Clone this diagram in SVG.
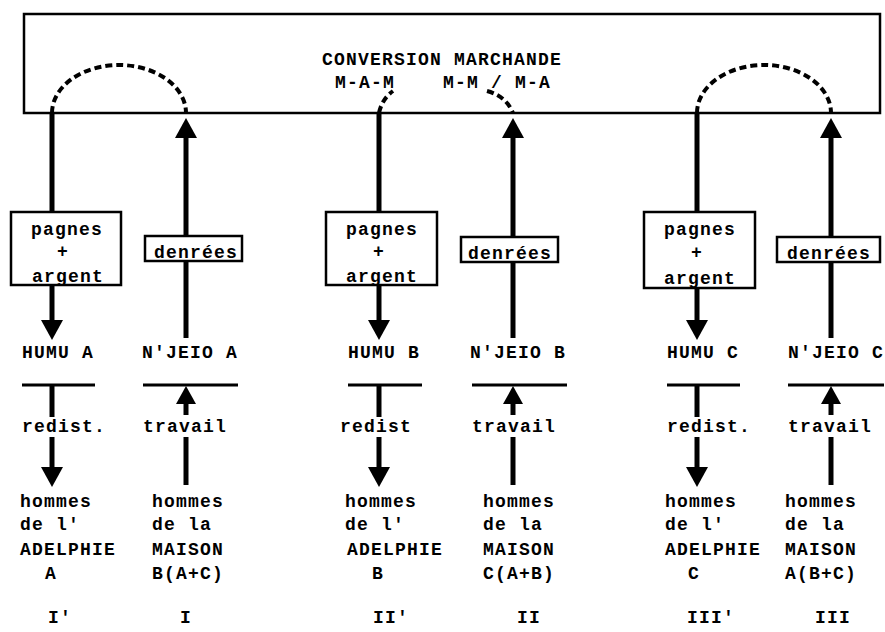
<svg xmlns="http://www.w3.org/2000/svg" width="885" height="632" viewBox="0 0 885 632">
<style>
text{font-family:"Liberation Mono","DejaVu Sans Mono",monospace;font-size:18px;font-weight:bold;letter-spacing:1.2px;fill:#000}
.m{text-anchor:middle}
.box{fill:#fff;stroke:#000;stroke-width:2.5}
.frame{fill:none;stroke:#000;stroke-width:2.5}
.ln{stroke:#000;stroke-width:5;fill:none}
.hr{stroke:#000;stroke-width:3}
.dash{stroke:#000;stroke-width:4;fill:none;stroke-dasharray:7 4}
</style>
<defs>
<marker id="ah" viewBox="0 0 20 22" refX="8" refY="11" markerWidth="20" markerHeight="22" markerUnits="userSpaceOnUse" orient="auto">
<path d="M0,0 L20,11 L0,22 z" fill="#000"/>
</marker>
<marker id="ahs" viewBox="0 0 18 20" refX="6" refY="10" markerWidth="18" markerHeight="20" markerUnits="userSpaceOnUse" orient="auto">
<path d="M0,0 L18,10 L0,20 z" fill="#000"/>
</marker>
</defs>
<rect width="885" height="632" fill="#fff"/>

<g id="conversion">
<rect class="frame" x="24" y="14" width="856" height="99"/>
<text x="322" y="65">CONVERSION MARCHANDE</text>
<text x="335" y="88">M-A-M</text>
<text x="443" y="88">M-M / M-A</text>
</g>

<g id="connectors">
<path class="dash" d="M52,113 A67,48 0 0 1 186,113"/>
<path class="dash" d="M697,113 A67,48 0 0 1 831,113"/>
<path class="dash" d="M379,113 Q382,99 393,91"/>
<path class="dash" d="M487,91 Q506,96 513,113"/>
<!-- col1 -->
<line class="ln" x1="52" y1="113" x2="52" y2="212"/>
<line class="ln" x1="52" y1="285" x2="52" y2="328" marker-end="url(#ah)"/>
<line class="ln" x1="52" y1="385" x2="52" y2="417"/>
<line class="ln" x1="52" y1="437" x2="52" y2="475" marker-end="url(#ah)"/>
<!-- col2 -->
<line class="ln" x1="186" y1="236" x2="186" y2="130" marker-end="url(#ah)"/>
<line class="ln" x1="186" y1="261" x2="186" y2="338"/>
<line class="ln" x1="186" y1="415" x2="186" y2="398" marker-end="url(#ahs)"/>
<line class="ln" x1="186" y1="437" x2="186" y2="485"/>
<!-- col3 -->
<line class="ln" x1="379" y1="113" x2="379" y2="212"/>
<line class="ln" x1="379" y1="285" x2="379" y2="328" marker-end="url(#ah)"/>
<line class="ln" x1="379" y1="385" x2="379" y2="417"/>
<line class="ln" x1="379" y1="437" x2="379" y2="475" marker-end="url(#ah)"/>
<!-- col4 -->
<line class="ln" x1="513" y1="237" x2="513" y2="130" marker-end="url(#ah)"/>
<line class="ln" x1="513" y1="262" x2="513" y2="338"/>
<line class="ln" x1="513" y1="415" x2="513" y2="398" marker-end="url(#ahs)"/>
<line class="ln" x1="513" y1="437" x2="513" y2="485"/>
<!-- col5 -->
<line class="ln" x1="697" y1="113" x2="697" y2="212"/>
<line class="ln" x1="697" y1="288" x2="697" y2="328" marker-end="url(#ah)"/>
<line class="ln" x1="697" y1="385" x2="697" y2="417"/>
<line class="ln" x1="697" y1="437" x2="697" y2="475" marker-end="url(#ah)"/>
<!-- col6 -->
<line class="ln" x1="831" y1="237" x2="831" y2="130" marker-end="url(#ah)"/>
<line class="ln" x1="831" y1="262" x2="831" y2="338"/>
<line class="ln" x1="831" y1="415" x2="831" y2="398" marker-end="url(#ahs)"/>
<line class="ln" x1="831" y1="437" x2="831" y2="485"/>
<!-- separators -->
<line class="hr" x1="22" y1="385" x2="95" y2="385"/>
<line class="hr" x1="143" y1="385" x2="238" y2="385"/>
<line class="hr" x1="348" y1="385" x2="422" y2="385"/>
<line class="hr" x1="472" y1="385" x2="567" y2="385"/>
<line class="hr" x1="667" y1="385" x2="740" y2="385"/>
<line class="hr" x1="788" y1="385" x2="884" y2="385"/>
</g>

<g id="pagnes-a">
<rect class="box" x="11" y="212" width="110" height="73"/>
<text class="m" x="67" y="235">pagnes</text>
<text class="m" x="63" y="257">+</text>
<text class="m" x="68" y="282">argent</text>
</g>
<g id="denrees-a">
<rect class="box" x="145" y="236" width="97" height="25"/>
<text class="m" x="196" y="258">denrées</text>
</g>
<g id="pagnes-b">
<rect class="box" x="326" y="212" width="111" height="73"/>
<text class="m" x="382" y="235">pagnes</text>
<text class="m" x="379" y="257">+</text>
<text class="m" x="382" y="282">argent</text>
</g>
<g id="denrees-b">
<rect class="box" x="461" y="237" width="97" height="25"/>
<text class="m" x="510" y="259">denrées</text>
</g>
<g id="pagnes-c">
<rect class="box" x="644" y="212" width="111" height="76"/>
<text class="m" x="700" y="235">pagnes</text>
<text class="m" x="697" y="258">+</text>
<text class="m" x="700" y="284">argent</text>
</g>
<g id="denrees-c">
<rect class="box" x="777" y="237" width="103" height="25"/>
<text class="m" x="829" y="259">denrées</text>
</g>

<g id="col-1">
<text x="22" y="358">HUMU A</text>
<text x="22" y="432">redist.</text>
<text x="20" y="507">hommes</text>
<text x="20" y="530">de l'</text>
<text x="20" y="555">ADELPHIE</text>
<text x="45" y="579">A</text>
<text x="48" y="623">I'</text>
</g>
<g id="col-2">
<text x="142" y="358">N'JEIO A</text>
<text x="143" y="432">travail</text>
<text x="152" y="507">hommes</text>
<text x="152" y="530">de la</text>
<text x="152" y="555">MAISON</text>
<text x="152" y="579">B(A+C)</text>
<text x="180" y="623">I</text>
</g>
<g id="col-3">
<text x="348" y="358">HUMU B</text>
<text x="340" y="432">redist</text>
<text x="345" y="507">hommes</text>
<text x="345" y="530">de l'</text>
<text x="347" y="555">ADELPHIE</text>
<text x="372" y="579">B</text>
<text x="373" y="623">II'</text>
</g>
<g id="col-4">
<text x="470" y="358">N'JEIO B</text>
<text x="472" y="432">travail</text>
<text x="483" y="507">hommes</text>
<text x="483" y="530">de la</text>
<text x="483" y="555">MAISON</text>
<text x="483" y="579">C(A+B)</text>
<text x="517" y="623">II</text>
</g>
<g id="col-5">
<text x="667" y="358">HUMU C</text>
<text x="667" y="432">redist.</text>
<text x="665" y="507">hommes</text>
<text x="665" y="530">de l'</text>
<text x="665" y="555">ADELPHIE</text>
<text x="688" y="579">C</text>
<text x="687" y="623">III'</text>
</g>
<g id="col-6">
<text x="788" y="358">N'JEIO C</text>
<text x="788" y="432">travail</text>
<text x="785" y="507">hommes</text>
<text x="785" y="530">de la</text>
<text x="785" y="555">MAISON</text>
<text x="785" y="579">A(B+C)</text>
<text x="815" y="623">III</text>
</g>
</svg>
